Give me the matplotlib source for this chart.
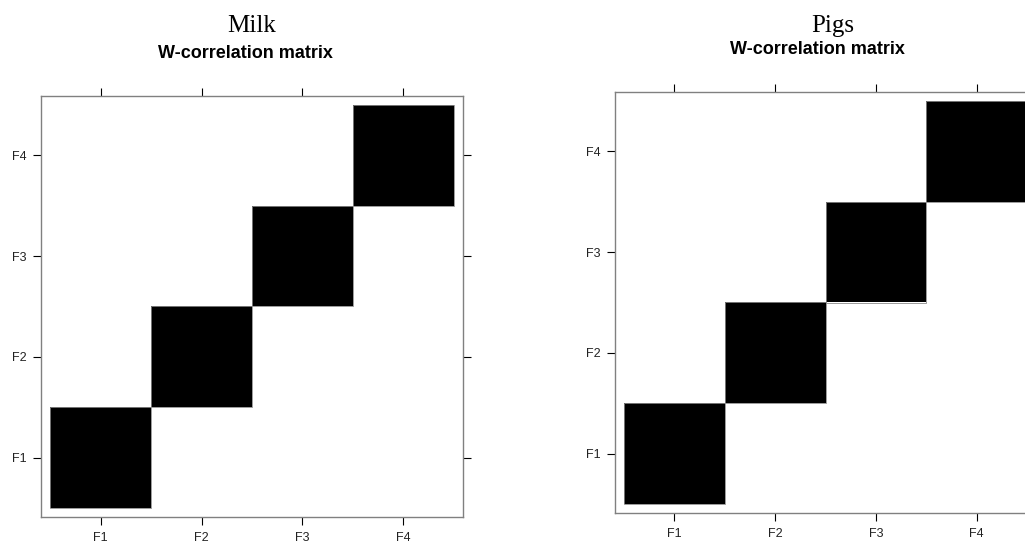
import numpy as np
import matplotlib.pyplot as plt
from matplotlib.patches import Rectangle

# W-correlation matrices (elementary reconstructed series F1..F4)
labels = ['F1', 'F2', 'F3', 'F4']
milk_wcor = [[1, 0, 0, 0],
             [0, 1, 0, 0],
             [0, 0, 1, 0],
             [0, 0, 0, 1]]
pigs_wcor = [[1, 0, 0, 0],
             [0, 1, 0, 0],
             [0, 0, 1, 0],
             [0, 0, 0, 1]]

plt.rcParams['font.family'] = ['Liberation Sans', 'DejaVu Sans']

fig = plt.figure(figsize=(10.25, 5.46), dpi=100)
W, H = 1025, 546


def wcor_panel(rect, mat, name, title_x, sub_x, sub_base):
    ax = fig.add_axes(rect)
    m = np.array(mat, dtype=float)
    n = len(labels)
    edges = np.arange(n + 1) + 0.5
    ax.pcolormesh(edges, edges, m, cmap='gray_r', vmin=0, vmax=1,
                  shading='flat', antialiased=False, edgecolors='none')
    # thin grey border around filled cells
    for i in range(n):
        for j in range(n):
            if m[i, j] > 0.05:
                ax.add_patch(Rectangle((j + 0.5, i + 0.5), 1, 1, fill=False,
                                       edgecolor='#8a8a8a', linewidth=0.6))
    ax.set_xlim(0.41, n + 0.59)
    ax.set_ylim(0.41, n + 0.59)
    ticks = np.arange(1, n + 1)
    ax.set_xticks(ticks)
    ax.set_yticks(ticks)
    ax.set_xticklabels(labels)
    ax.set_yticklabels(labels)
    ax.tick_params(direction='out', length=5.5, width=0.8, color='black',
                   labelsize=9, pad=5, labelcolor='#222222', top=True,
                   right=True, labeltop=False, labelright=False)
    for s in ax.spines.values():
        s.set_color('#808080')
        s.set_linewidth(1.0)
    fig.text(title_x / W, 1 - 32 / H, name, family='Liberation Serif',
             fontsize=18, ha='center', va='baseline')
    fig.text(sub_x / W, 1 - sub_base / H, 'W-correlation matrix',
             fontsize=13, fontweight='bold', ha='center', va='baseline')
    return ax


wcor_panel([41 / W, 29 / H, 422 / W, 421 / H], milk_wcor, 'Milk', 252, 245, 58)
wcor_panel([615 / W, 33 / H, 421 / W, 421 / H], pigs_wcor, 'Pigs', 833, 817, 53.5)

fig.savefig('out.png', dpi=100)
